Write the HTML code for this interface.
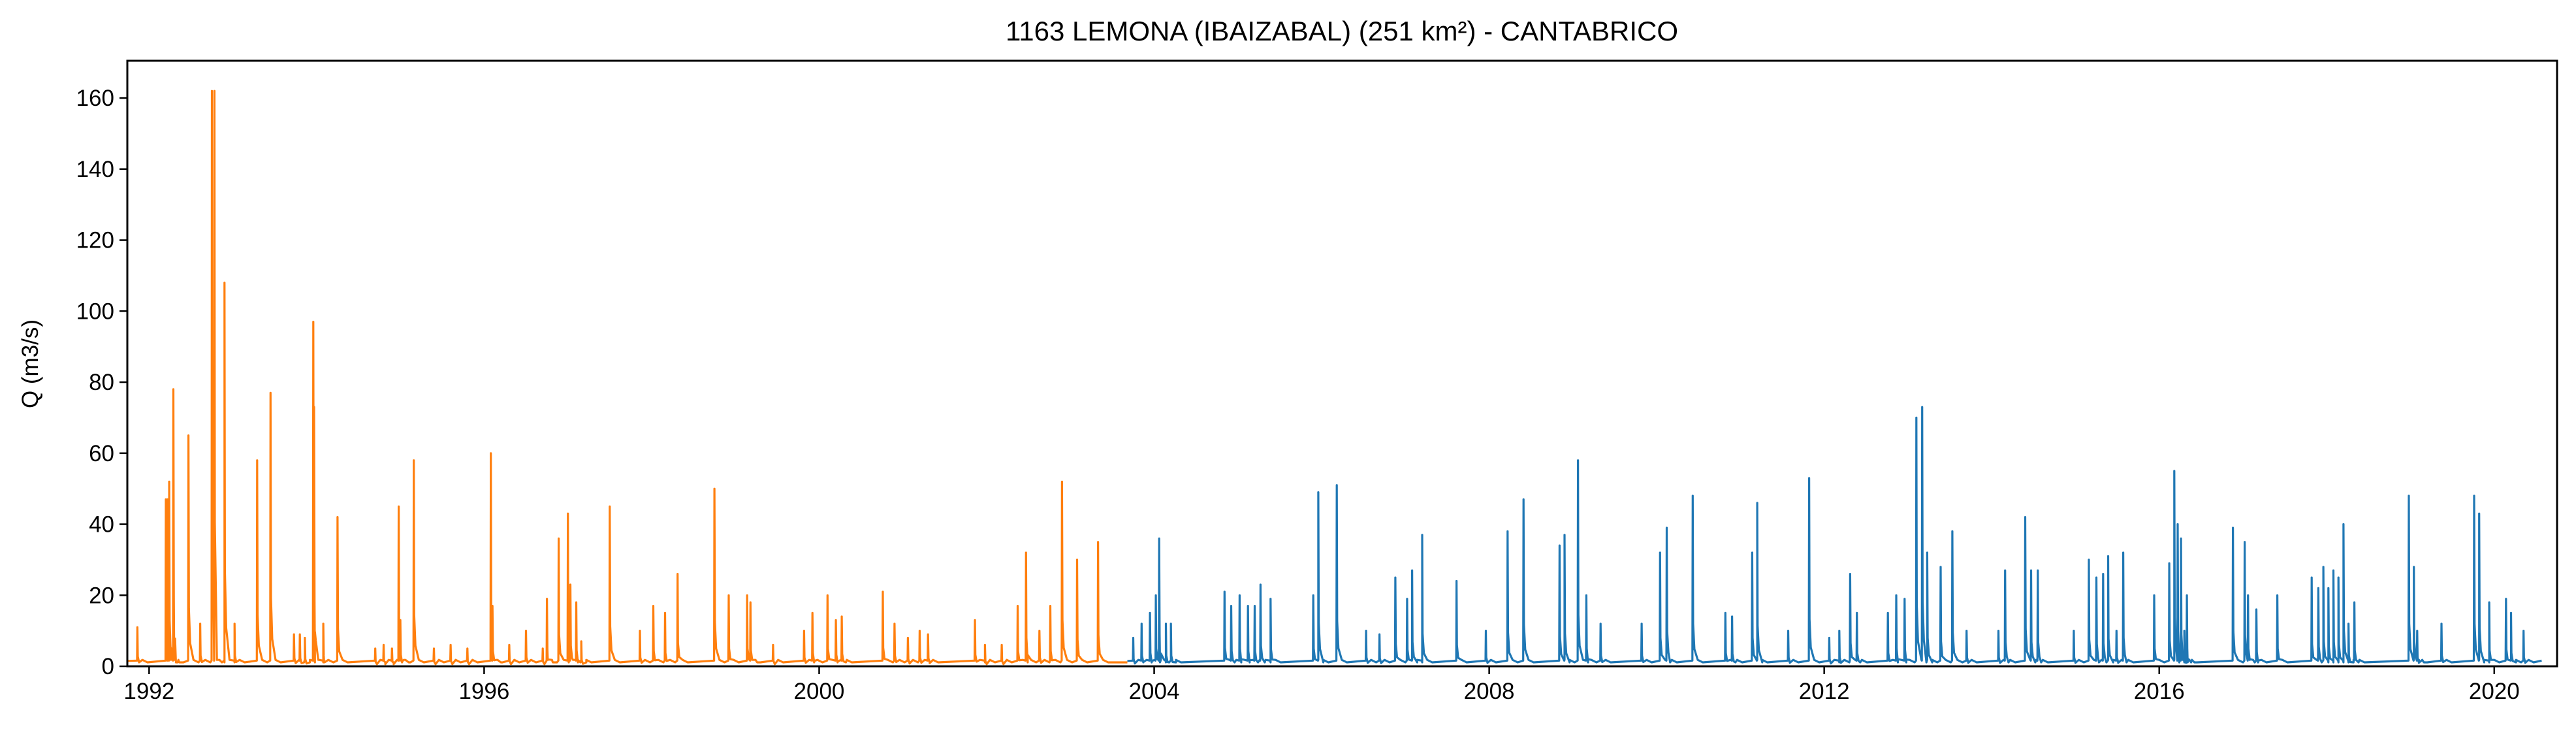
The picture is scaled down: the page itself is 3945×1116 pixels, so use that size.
<!DOCTYPE html>
<html><head><meta charset="utf-8"><style>
html,body{margin:0;padding:0;background:#fff}
svg{display:block}
text{font-family:"Liberation Sans","DejaVu Sans",sans-serif;fill:#000}
</style></head><body>
<svg id="chart" width="3945" height="1116" viewBox="0 0 3945 1116">
<text x="2055" y="62" font-size="42" text-anchor="middle">1163 LEMONA (IBAIZABAL) (251 km²) - CANTABRICO</text>
<text transform="translate(58,557) rotate(-90)" font-size="35" text-anchor="middle">Q (m3/s)</text>
<g id="plot"></g>
<g id="axes"></g>
</svg>
<script>
const xTicks=[1992,1996,2000,2004,2008,2012,2016,2020];
const yTicks=[0,20,40,60,80,100,120,140,160];
const splitYear=2003.68;
const eventYears=[1991.86,1992.2,1992.22,1992.24,1992.29,1992.47,1992.61,1992.75,1992.78,1992.9,1993.02,1993.29,1993.45,1993.73,1993.8,1993.86,1993.96,1993.97,1994.08,1994.25,1994.7,1994.8,1994.9,1994.98,1995.0,1995.16,1995.4,1995.6,1995.8,1996.08,1996.1,1996.3,1996.5,1996.7,1996.75,1996.89,1997.0,1997.03,1997.1,1997.16,1997.5,1997.86,1998.02,1998.16,1998.31,1998.75,1998.92,1999.14,1999.18,1999.45,1999.82,1999.92,2000.1,2000.2,2000.27,2000.76,2000.9,2001.06,2001.2,2001.3,2001.86,2001.98,2002.18,2002.37,2002.47,2002.63,2002.76,2002.9,2003.08,2003.33,
2003.75,2003.85,2003.95,2004.02,2004.06,2004.14,2004.2,2004.84,2004.92,2005.02,2005.12,2005.2,2005.27,2005.39,2005.9,2005.96,2006.18,2006.53,2006.69,2006.88,2007.02,2007.08,2007.2,2007.61,2007.96,2008.22,2008.41,2008.84,2008.9,2009.06,2009.16,2009.33,2009.82,2010.04,2010.12,2010.43,2010.82,2010.9,2011.14,2011.2,2011.57,2011.82,2012.06,2012.18,2012.31,2012.39,2012.76,2012.86,2012.96,2013.1,2013.17,2013.23,2013.39,2013.53,2013.7,2014.08,2014.16,2014.4,2014.47,2014.55,2014.98,2015.16,2015.25,2015.33,2015.39,2015.49,2015.57,2015.94,2016.12,2016.18,2016.22,2016.26,2016.3,2016.33,2016.88,2017.02,2017.06,2017.16,2017.41,2017.82,2017.9,2017.96,2018.02,2018.08,2018.14,2018.2,2018.26,2018.33,2018.98,2019.04,2019.08,2019.37,2019.76,2019.82,2019.94,2020.14,2020.2,2020.35,2020.57,2020.73];
const eventPeaks=[11,47,47,52,78,65,12,162,162,108,12,58,77,9,9,8,97,73,12,42,5,6,5,45,13,58,5,6,5,60,17,6,10,5,19,36,43,23,18,7,45,10,17,15,26,50,20,20,18,6,10,15,20,13,14,21,12,8,10,9,13,6,6,17,32,10,17,52,30,35,
8,12,15,20,36,12,12,21,17,20,17,17,23,19,20,49,51,10,9,25,19,27,37,24,10,38,47,34,37,58,20,12,12,32,39,48,15,14,32,46,10,53,8,10,26,15,15,20,19,70,73,32,28,38,10,10,27,42,27,27,10,30,25,26,31,10,32,20,29,55,40,36,10,20,39,35,20,16,20,25,22,28,22,27,25,40,12,18,48,28,10,12,48,43,18,19,15,10];

const L=195,R=3916,T=93,B=1020,X0=1991.74,X1=2020.75,Y0=0,Y1=170.5;
const xs=v=>L+(v-X0)/(X1-X0)*(R-L);
const ys=v=>B-(v-Y0)/(Y1-Y0)*(B-T);
const NS='http://www.w3.org/2000/svg';
function mk(tag,attrs,parent){const e=document.createElementNS(NS,tag);for(const k in attrs)e.setAttribute(k,attrs[k]);parent.appendChild(e);return e;}
const plot=document.getElementById('plot'),axes=document.getElementById('axes');

function buildPath(lo,hi){
  const base=0.6;let pts=[[lo,1.5]];
  for(let i=0;i<eventYears.length;i++){
    const t=eventYears[i],p=eventPeaks[i];
    if(t<lo||t>=hi)continue;
    pts.push([t-0.004,base+1]);pts.push([t,p]);
    pts.push([t+0.005,Math.max(base,p*0.25)]);
    pts.push([t+0.02,Math.max(base,p*0.1)]);
    pts.push([t+0.06,base+1.2]);
    pts.push([t+0.12,base+0.5]);
  }
  pts.push([hi,base+0.5]);
  pts.sort((a,b)=>a[0]-b[0]);
  return pts.map((q,i)=>(i?'L':'M')+xs(Math.max(X0,Math.min(X1,q[0]))).toFixed(1)+','+ys(q[1]).toFixed(1)).join('');
}
const clip=mk('clipPath',{id:'cp'},plot);mk('rect',{x:L,y:T,width:R-L,height:B-T},clip);
const s1=mk('path',{d:buildPath(X0,splitYear),fill:'none',stroke:'#ff7f0e','stroke-width':3.2,'stroke-linejoin':'round','clip-path':'url(#cp)'},plot);


const s2=mk('path',{d:buildPath(splitYear,X1),fill:'none',stroke:'#1f77b4','stroke-width':3.2,'stroke-linejoin':'round','clip-path':'url(#cp)'},plot);



const fr=mk('rect',{x:L,y:T,width:R-L,height:B-T,fill:'none',stroke:'#000','stroke-width':3},axes);


xTicks.forEach(v=>{
  const x=xs(v);
  const tk=mk('line',{x1:x,x2:x,y1:B,y2:B+12,stroke:'#000','stroke-width':2.5},axes);
  
  
  const t=mk('text',{x:x,y:B+50,'font-size':35,'text-anchor':'middle'},axes);t.textContent=v;
  
  
});
yTicks.forEach(v=>{
  const y=ys(v);
  const tk=mk('line',{x1:L-12,x2:L,y1:y,y2:y,stroke:'#000','stroke-width':2.5},axes);
  
  
  const t=mk('text',{x:L-20,y:y+12,'font-size':35,'text-anchor':'end'},axes);t.textContent=v;
  
  
});
</script>
</body></html>
